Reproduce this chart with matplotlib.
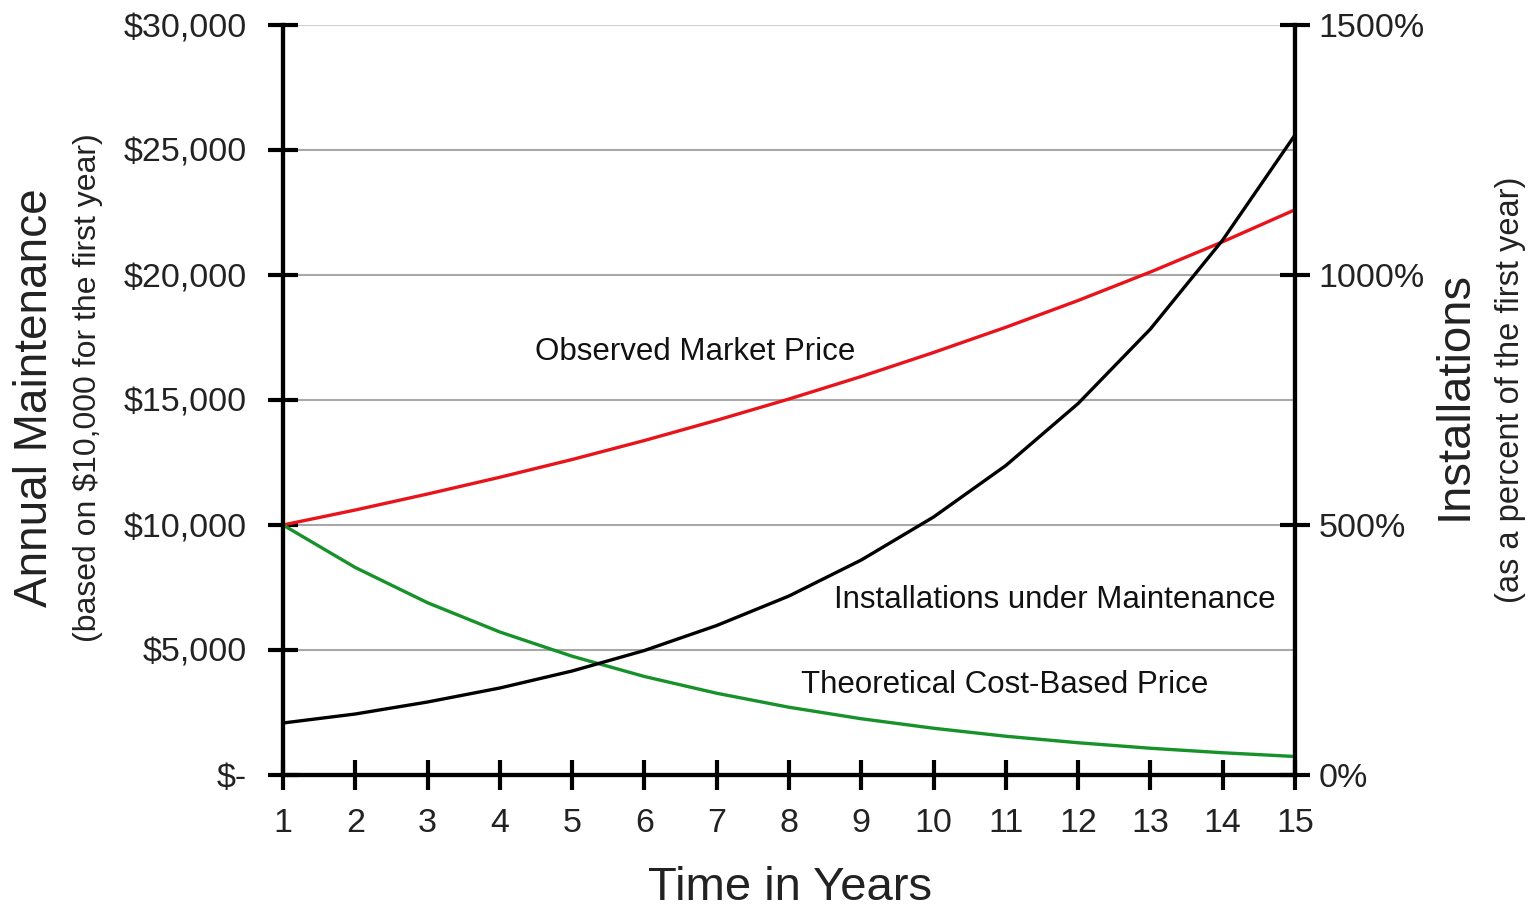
import matplotlib
matplotlib.use("Agg")
import matplotlib.pyplot as plt

years = list(range(1, 16))
observed_price = [10000, 10600, 11240, 11910, 12620, 13380, 14190, 15040, 15940, 16900, 17910, 18980, 20120, 21330, 22610]
theoretical_price = [10000, 8300, 6890, 5720, 4750, 3940, 3270, 2710, 2250, 1870, 1550, 1290, 1070, 890, 740]
installations_pct = [104, 122, 146, 174, 208, 249, 299, 358, 430, 516, 619, 743, 892, 1070, 1280]

left_ticks = [0, 5000, 10000, 15000, 20000, 25000, 30000]
left_labels = ["$-", "$5,000", "$10,000", "$15,000", "$20,000", "$25,000", "$30,000"]
right_ticks = [0, 500, 1000, 1500]
right_labels = ["0%", "500%", "1000%", "1500%"]

plt.rcParams['font.family'] = ['Liberation Sans', 'DejaVu Sans']

fig = plt.figure(figsize=(15.36, 9.10), dpi=100)
ax = fig.add_axes([283/1536, 1-775/910, (1295-283)/1536, (775-25)/910])
ax2 = ax.twinx()

ax.set_xlim(1, 15)
ax.set_ylim(0, 30000)
ax2.set_ylim(0, 1500)

for t in left_ticks[1:]:
    ax.axhline(t, color="#a8a8a8" if t < 30000 else "#d0d0d0", lw=1.5, zorder=0)

ax.plot(years, observed_price, color="#e8141c", lw=2.4, zorder=3)
ax.plot(years, theoretical_price, color="#17912a", lw=2.4, zorder=3)
ax2.plot(years, installations_pct, color="black", lw=2.4, zorder=3)

ax.set_yticks(left_ticks)
ax.set_yticklabels(left_labels)
ax.set_xticks(years)
ax.set_xticklabels([str(y) for y in years])
ax2.set_yticks(right_ticks)
ax2.set_yticklabels(right_labels)

for a in (ax, ax2):
    a.spines['top'].set_visible(False)
    for s in ('left', 'right', 'bottom'):
        a.spines[s].set_linewidth(3)
        a.spines[s].set_color('black')

tick_fs = 24.5
ax.tick_params(axis='both', direction='inout', length=22, width=3, labelsize=tick_fs, colors='black')
ax.tick_params(axis='y', pad=15)
ax.tick_params(axis='x', pad=13)
ax2.tick_params(axis='y', direction='inout', length=22, width=3, labelsize=tick_fs, pad=6)
for lab in ax.get_yticklabels() + ax.get_xticklabels() + ax2.get_yticklabels():
    lab.set_color('#222222')

ann_fs = 22.5
ax.text(6.70, 16920, "Observed Market Price", fontsize=ann_fs, ha='center', va='center', color='#111111')
ax.text(11.68, 7000, "Installations under Maintenance", fontsize=ann_fs, ha='center', va='center', color='#111111')
ax.text(10.99, 3600, "Theoretical Cost-Based Price", fontsize=ann_fs, ha='center', va='center', color='#111111')

fig.text(35/1536, 1-398/910, "Annual Maintenance", rotation=90, fontsize=33, ha='center', va='center', color='#222222')
fig.text(88/1536, 1-388/910, "(based on $10,000 for the first year)", rotation=90, fontsize=23, ha='center', va='center', color='#222222')
fig.text(1455/1536, 1-395/910, "Installations", rotation=90, fontsize=34, ha='center', va='center', color='#222222')
fig.text(1510/1536, 1-390/910, "(as a percent of the first year)", rotation=90, fontsize=23.5, ha='center', va='center', color='#222222')
fig.text(790/1536, 1-888/910, "Time in Years", fontsize=34, ha='center', va='center', color='#222222')

fig.savefig("out.png", dpi=100)
